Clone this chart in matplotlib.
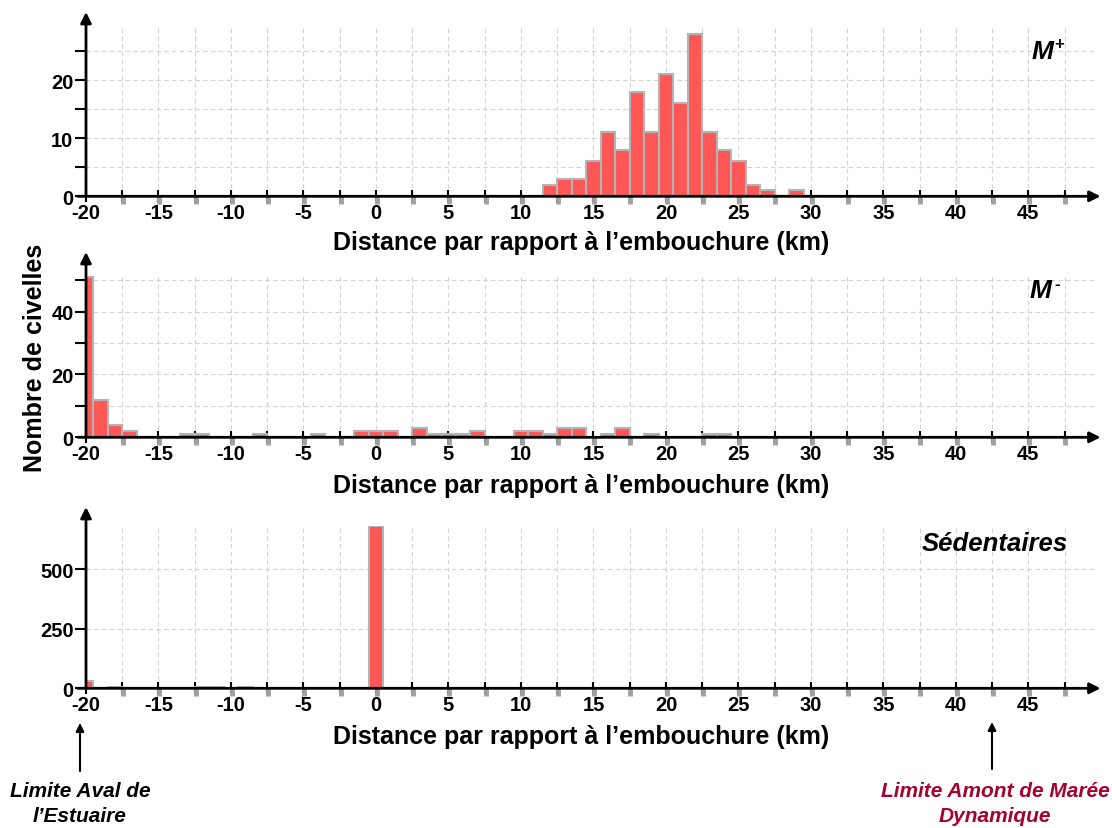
import numpy as np
import matplotlib
matplotlib.use("Agg")
import matplotlib.pyplot as plt
from matplotlib.transforms import ScaledTranslation

plt.rcParams['font.family'] = ['Liberation Sans', 'DejaVu Sans']
plt.rcParams['font.weight'] = 'bold'

# ---- data (bin centres in km, counts) ----
mplus_km = [12, 13, 14, 15, 16, 17, 18, 19, 20, 21, 22, 23, 24, 25, 26, 27, 28, 29]
mplus_n = [2, 3, 3, 6, 11, 8, 18, 11, 21, 16, 28, 11, 8, 6, 2, 1, 0, 1]

mminus_km = [-20, -19, -18, -17, -13, -12, -8, -4, -1, 0, 1, 3, 4, 5, 6, 7,
             10, 11, 12, 13, 14, 16, 17, 19, 23, 24]
mminus_n = [51, 12, 4, 2, 1, 1, 1, 1, 2, 2, 2, 3, 1, 1, 1, 2,
            2, 2, 1, 3, 3, 1, 3, 1, 1, 1]

sed_km = [-20, -18, -12, -11, -9, 0]
sed_n = [32, 4, 4, 4, 4, 680]

xtick_major = list(range(-20, 50, 5))
xtick_labels = [str(v) for v in xtick_major]

xlabel = 'Distance par rapport à l’embouchure (km)'

fig = plt.figure(figsize=(11.12, 8.29), dpi=100)
W, H = 1112, 829
LEFT, RIGHT = 86, 1098

def make_ax(bottom_px, top_px):
    return fig.add_axes([LEFT / W, 1 - bottom_px / H, (RIGHT - LEFT) / W,
                         (bottom_px - top_px) / H])

ax1 = make_ax(197.3, 29)
ax2 = make_ax(438.3, 275)
ax3 = make_ax(689.3, 527.3)

bar_color = '#FF5656'
edge_color = '#B4B4B4'

configs = [
    (ax1, mplus_km, mplus_n, 29, [0, 10, 20], [5, 15, 25], 13),
    (ax2, mminus_km, mminus_n, 52, [0, 20, 40], [10, 30, 50], 253),
    (ax3, sed_km, sed_n, 680, [0, 250, 500], [], 508),
]

for ax, km, n, ytop, ymaj, ymin, arrow_px in configs:
    ax.bar(km, n, width=1.0, color=bar_color, edgecolor=edge_color,
           linewidth=1.5, zorder=3, align='center')
    ax.set_xlim(-20, 49.8)
    ax.set_ylim(0, ytop)
    for s in ax.spines.values():
        s.set_visible(False)
    ax.set_xticks(xtick_major)
    ax.set_xticklabels(xtick_labels)
    ax.set_xticks(np.arange(-17.5, 50, 5), minor=True)
    ax.set_yticks(ymaj)
    ax.set_yticks(ymin, minor=True)
    ax.grid(which='both', color='#D2D2D2', linestyle=(0, (4, 3)),
            linewidth=0.8, zorder=0)
    ax.set_axisbelow(True)
    ax.tick_params(axis='x', which='both', direction='inout', length=8,
                   width=1.5, color='k', labelsize=14.5, pad=1)
    ax.tick_params(axis='y', which='both', direction='out', length=8,
                   width=1.5, color='k', labelsize=14.5, pad=1)
    # gray tick shadows
    trans = ax.get_xaxis_transform() + ScaledTranslation(0.8 / 100, -3.5 / 100,
                                                         fig.dpi_scale_trans)
    shadow_x = np.arange(-17.5, 50, 2.5)
    ax.plot(shadow_x, np.zeros_like(shadow_x), ls='none', marker='|', ms=6,
            mew=3.5, color='#A0A0A0', transform=trans, clip_on=False, zorder=1)
    # axis arrows
    ytip = (1 - arrow_px / H - ax.get_position().y0) / ax.get_position().height
    ax.annotate('', xy=(1.0025, 0), xytext=(-0.008, 0), xycoords='axes fraction',
                arrowprops=dict(arrowstyle='-|>', lw=2, color='k',
                                mutation_scale=16, shrinkA=0, shrinkB=0),
                annotation_clip=False, zorder=6)
    ax.annotate('', xy=(0, ytip), xytext=(0, 0), xycoords='axes fraction',
                arrowprops=dict(arrowstyle='-|>', lw=2, color='k',
                                mutation_scale=16, shrinkA=0, shrinkB=0),
                annotation_clip=False, zorder=6)
    ax.set_xlabel(xlabel, fontsize=18, fontweight='bold', labelpad=7)
    ax.xaxis.set_label_coords((581.5 - LEFT) / (RIGHT - LEFT), 0,
                              transform=ax.transAxes)
    ax.xaxis.label.set_va('top')
    ax.xaxis.label.set_y(-0.18)

# fix label vertical positions in pixels
for ax, cy in [(ax1, 243), (ax2, 486), (ax3, 737)]:
    ax.xaxis.label.set_transform(fig.transFigure)
    ax.xaxis.label.set_position((581.5 / W, 1 - cy / H))
    ax.xaxis.label.set_va('center')

# panel names: M with superscript sign
def panel_label(xc, yc, sign):
    fig.text(xc / W, 1 - yc / H, 'M', fontsize=19, fontstyle='italic',
             fontweight='bold', ha='center', va='center')
    fig.text((xc + 16) / W, 1 - (yc - 7) / H, sign, fontsize=12,
             fontweight='bold', ha='center', va='center')

panel_label(1043, 52, '+')
panel_label(1041, 291, '-')
fig.text(995 / W, 1 - 544 / H, 'Sédentaires', fontsize=18.5, fontstyle='italic',
         fontweight='bold', ha='center', va='center')

fig.text(35 / W, 1 - 358 / H, 'Nombre de civelles', rotation=90, fontsize=18,
         fontweight='bold', ha='center', va='center')

# bottom annotations
ax3.annotate('', xy=(80 / W, 1 - 724 / H), xytext=(80 / W, 1 - 772 / H),
             xycoords='figure fraction',
             arrowprops=dict(arrowstyle='-|>', lw=1.5, color='k',
                             mutation_scale=12, shrinkA=0, shrinkB=0),
             annotation_clip=False)
ax3.annotate('', xy=(992 / W, 1 - 723 / H), xytext=(992 / W, 1 - 770 / H),
             xycoords='figure fraction',
             arrowprops=dict(arrowstyle='-|>', lw=1.5, color='k',
                             mutation_scale=12, shrinkA=0, shrinkB=0),
             annotation_clip=False)
fig.text(80 / W, 1 - 792 / H, 'Limite Aval de', fontsize=15,
         fontstyle='italic', fontweight='bold', ha='center', va='center',
         color='black')
fig.text(80 / W, 1 - 817 / H, 'l’Estuaire', fontsize=15,
         fontstyle='italic', fontweight='bold', ha='center', va='center',
         color='black')
fig.text(995 / W, 1 - 792 / H, 'Limite Amont de Marée', fontsize=15,
         fontstyle='italic', fontweight='bold', ha='center', va='center',
         color='#A6002C')
fig.text(995 / W, 1 - 817 / H, 'Dynamique', fontsize=15,
         fontstyle='italic', fontweight='bold', ha='center', va='center',
         color='#A6002C')

fig.savefig('out.png', dpi=100)
